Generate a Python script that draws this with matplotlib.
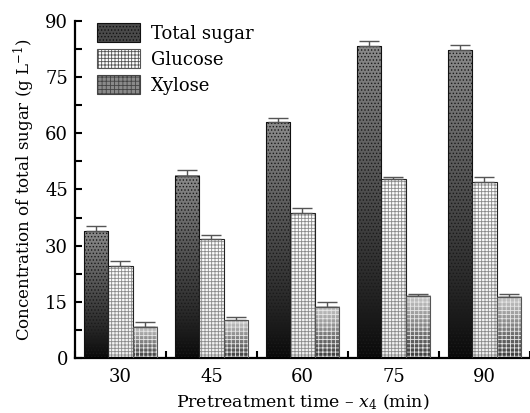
import numpy as np
import matplotlib
matplotlib.use("Agg")
import matplotlib.pyplot as plt
from matplotlib.patches import Patch
from matplotlib.ticker import MultipleLocator, FixedLocator

# data
times = ["30", "45", "60", "75", "90"]
total_sugar = [33.9, 48.7, 63.0, 83.3, 82.2]
total_err = [1.3, 1.4, 1.2, 1.3, 1.3]
glucose = [24.6, 31.8, 38.6, 47.7, 47.1]
glucose_err = [1.4, 1.1, 1.4, 0.7, 1.2]
xylose = [8.4, 10.1, 13.7, 16.6, 16.4]
xylose_err = [1.3, 0.8, 1.2, 0.6, 0.8]

plt.rcParams['font.family'] = ['DejaVu Serif']
plt.rcParams['mathtext.fontset'] = 'custom'
plt.rcParams['mathtext.rm'] = 'DejaVu Serif'
plt.rcParams['mathtext.it'] = 'DejaVu Serif:italic'
plt.rcParams['hatch.linewidth'] = 0.6


def gradient_bar(ax, xs, heights, width, top_col, bot_col, hatch, hatch_col, edge_col):
    # vertical grey gradient (light at top, dark at bottom) plus a hatch texture
    cmap = matplotlib.colors.LinearSegmentedColormap.from_list('g', [bot_col, top_col])
    grad = np.linspace(0, 1, 100).reshape(-1, 1)
    for x, h in zip(xs, heights):
        ax.imshow(grad, extent=[x - width / 2, x + width / 2, 0, h], origin='lower',
                  aspect='auto', cmap=cmap, zorder=1, interpolation='bilinear')
    ax.bar(xs, heights, width, facecolor='none', hatch=hatch, edgecolor=hatch_col,
           linewidth=0, zorder=2)
    ax.bar(xs, heights, width, facecolor='none', edgecolor=edge_col, linewidth=0.8, zorder=3)


fig = plt.figure(figsize=(5.30, 4.13), dpi=100)
ax = fig.add_axes([0.1415, 0.1332, 0.8585, 0.8160])

x = np.arange(len(times))
w = 0.267

styles = [
    (total_sugar, total_err, -w, '#8a8a8a', '#0a0a0a', '.....', '#1a1a1a', '#111111'),
    (glucose, glucose_err, 0, '#ffffff', '#f0f0f0', '+++++', '#8a8a8a', '#222222'),
    (xylose, xylose_err, w, '#c8c8c8', '#3a3a3a', '++++', '#e6e6e6', '#555555'),
]
for vals, errs, off, top_c, bot_c, hatch, hcol, ecol in styles:
    gradient_bar(ax, x + off, vals, w, top_c, bot_c, hatch, hcol, ecol)
    ax.errorbar(x + off, vals, yerr=[np.zeros(len(vals)), errs], fmt='none',
                ecolor='#555555', elinewidth=1.0, capsize=7.5, capthick=1.0, zorder=4)

ax.set_xlim(-0.5, 4.5)
ax.set_ylim(0, 90)

ax.spines['top'].set_visible(False)
ax.spines['right'].set_visible(False)
ax.spines['left'].set_linewidth(1.6)
ax.spines['bottom'].set_linewidth(1.6)

ax.set_xticks(x)
ax.set_xticklabels(times)
ax.xaxis.set_minor_locator(FixedLocator(np.arange(-0.5, 5, 1)))
ax.tick_params(axis='x', which='major', length=0, pad=7, labelsize=13)
ax.tick_params(axis='x', which='minor', direction='in', length=5, width=1.5)

ax.yaxis.set_major_locator(MultipleLocator(15))
ax.yaxis.set_minor_locator(MultipleLocator(7.5))
ax.tick_params(axis='y', which='major', direction='in', length=5, width=1.5, pad=5, labelsize=13)
ax.tick_params(axis='y', which='minor', direction='in', length=5, width=1.5)

ax.set_ylabel('Concentration of total sugar (g L$^{-1}$)', fontsize=12, labelpad=6)
ax.set_xlabel('Pretreatment time \u2013 $x_4$ (min)', fontsize=12.5, labelpad=5)

handles = [
    Patch(facecolor='#4a4a4a', edgecolor='#111111', hatch='.....', linewidth=0.8, label='Total sugar'),
    Patch(facecolor='#ffffff', edgecolor='#555555', hatch='+++++', linewidth=0.8, label='Glucose'),
    Patch(facecolor='#8a8a8a', edgecolor='#444444', hatch='++++', linewidth=0.8, label='Xylose'),
]
ax.legend(handles=handles, loc='upper left', bbox_to_anchor=(97 / 530, 1 - 23 / 413),
          bbox_transform=fig.transFigure, frameon=False, fontsize=13,
          handlelength=2.4, handleheight=1.25, handletextpad=0.6, labelspacing=0.36,
          borderpad=0, borderaxespad=0)

fig.savefig('out.png', dpi=100)
